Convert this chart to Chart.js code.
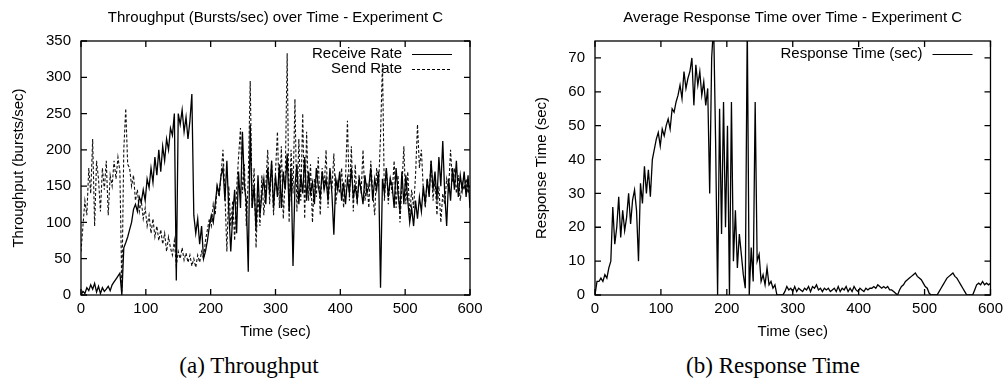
<!DOCTYPE html>
<html>
<head>
<meta charset="utf-8">
<title>Experiment C</title>
<script src="https://cdn.jsdelivr.net/npm/chart.js@4.4.1/dist/chart.umd.min.js"></script>
<style>
    html, body { margin: 0; padding: 0; background: #fff; overflow: hidden; }
    body { width: 1008px; height: 379px; position: relative; }
    .panel { position: absolute; top: 0; width: 504px; height: 345px; }
    .caption { position: absolute; top: 352px; width: 504px; text-align: center;
               font-family: "Liberation Serif", "Times New Roman", serif; font-size: 23px;
               line-height: 28px; color: #000; }
</style>
</head>
<body>
<div class="panel" style="left:0"><canvas id="throughputChart"></canvas></div>
<div class="panel" style="left:504px"><canvas id="responseChart"></canvas></div>
<div class="caption" style="left:-3px">(a) Throughput</div>
<div class="caption" style="left:521px">(b) Response Time</div>

<script>
// sample times (sec), shared by both plots
const sampleTimes = [
    0, 3, 6, 9, 12, 15, 18, 21, 24, 27,
    30, 33, 36, 39, 42, 45, 48, 51, 54, 57,
    60, 63, 66, 69, 72, 75, 78, 81, 84, 87,
    90, 93, 96, 99, 102, 105, 108, 111, 114, 117,
    120, 123, 126, 129, 132, 135, 138, 141, 144, 147,
    150, 153, 156, 159, 162, 165, 168, 171, 174, 177,
    180, 183, 186, 189, 192, 195, 198, 201, 204, 207,
    210, 213, 216, 219, 222, 225, 228, 231, 234, 237,
    240, 243, 246, 249, 252, 255, 258, 261, 264, 267,
    270, 273, 276, 279, 282, 285, 288, 291, 294, 297,
    300, 303, 306, 309, 312, 315, 318, 321, 324, 327,
    330, 333, 336, 339, 342, 345, 348, 351, 354, 357,
    360, 363, 366, 369, 372, 375, 378, 381, 384, 387,
    390, 393, 396, 399, 402, 405, 408, 411, 414, 417,
    420, 423, 426, 429, 432, 435, 438, 441, 444, 447,
    450, 453, 456, 459, 462, 465, 468, 471, 474, 477,
    480, 483, 486, 489, 492, 495, 498, 501, 504, 507,
    510, 513, 516, 519, 522, 525, 528, 531, 534, 537,
    540, 543, 546, 549, 552, 555, 558, 561, 564, 567,
    570, 573, 576, 579, 582, 585, 588, 591, 594, 597,
    600
];

// Receive Rate (bursts/sec)
const receiveRate = [
    0, 5, 2, 10, 6, 14, 8, 16, 4, 12,
    2, 10, 5, 8, 12, 6, 14, 18, 22, 26,
    30, 0, 65, 72, 80, 90, 100, 118, 125, 115,
    135, 128, 145, 130, 160, 148, 175, 155, 190, 165,
    200, 170, 205, 185, 215, 200, 230, 220, 250, 20,
    250, 235, 255, 225, 245, 215, 240, 277, 110, 85,
    105, 70, 95, 50, 60, 75, 95, 110, 100, 125,
    150, 140, 165, 175, 130, 185, 115, 60, 110, 145,
    85, 170, 120, 225, 150, 130, 32, 235, 120, 150,
    90, 165, 110, 140, 160, 125, 175, 140, 185, 120,
    165, 135, 180, 120, 170, 145, 195, 115, 175, 40,
    150, 180, 125, 165, 140, 190, 130, 170, 140, 155,
    125, 175, 150, 135, 170, 145, 160, 130, 175, 140,
    83, 160, 145, 170, 130, 155, 125, 160, 140, 175,
    135, 150, 130, 160, 145, 125, 165, 140, 150, 175,
    130, 160, 145, 170, 10, 160, 140, 175, 135, 160,
    150, 120, 175, 140, 115, 170, 125, 165, 130, 100,
    120, 95, 130, 105, 135, 115, 150, 125, 160, 135,
    185, 145, 170, 130, 190, 150, 212, 140, 95, 160,
    130, 175, 145, 185, 135, 165, 145, 170, 135, 165,
    120
];

// Send Rate (bursts/sec)
const sendRate = [
    60, 95, 130, 110, 175, 140, 215, 95, 185, 160,
    115, 175, 145, 185, 110, 165, 150, 185, 160, 190,
    170, 5, 200, 257, 180, 175, 150, 165, 130, 145,
    115, 130, 105, 120, 95, 110, 85, 105, 80, 95,
    75, 90, 70, 85, 60, 80, 65, 55, 75, 40,
    60, 50, 65, 48, 58, 45, 55, 40, 50, 38,
    55, 45, 60, 50, 75, 90, 105, 95, 125, 110,
    150, 135, 165, 200, 140, 60, 150, 95, 130, 75,
    145, 190, 230, 140, 180, 95, 160, 295, 120, 175,
    65, 140, 95, 165, 110, 150, 200, 125, 185, 110,
    170, 225, 120, 205, 105, 160, 333, 100, 200, 140,
    270, 115, 215, 130, 250, 105, 225, 130, 180, 100,
    160, 135, 190, 110, 175, 145, 200, 120, 165, 145,
    195, 125, 155, 140, 175, 120, 160, 240, 130, 205,
    115, 180, 125, 165, 140, 200, 130, 155, 120, 185,
    140, 110, 175, 150, 220, 320, 130, 175, 125, 160,
    140, 185, 120, 165, 100, 150, 205, 125, 170, 110,
    145, 120, 165, 235, 175, 200, 145, 120, 160, 140,
    185, 130, 160, 110, 150, 100, 140, 125, 160, 145,
    200, 155, 175, 140, 165, 130, 155, 145, 160, 140,
    150
];

// Response Time (sec)
const responseTime = [
    0, 4, 4, 5, 4, 6, 5, 8, 10, 26,
    15, 20, 29, 17, 25, 19, 23, 30, 21, 28,
    31, 25, 10, 33, 27, 38, 30, 37, 29, 40,
    43, 46, 48, 44, 49, 47, 50, 52, 49, 55,
    54, 57, 59, 62, 58, 66, 61, 64, 66, 70,
    56, 68, 62, 66, 59, 63, 56, 61, 30, 70,
    80, 45, 0, 55, 18, 57, 20, 50, 0, 57,
    10, 25, 8, 18, 12, 6, 2, 80, 0, 14,
    4, 57, 10, 12, 4, 6, 3, 8, 3, 4,
    2, 3, 0, 0, 0, 0, 1, 2.5, 1.5, 2,
    1, 2.5, 1, 2, 1.5, 1, 2, 1.5, 2.5, 1,
    2.5, 2, 3, 1.5, 2, 1, 2, 1.5, 2, 1,
    1.5, 2, 1, 2.5, 1, 2, 1.5, 2.5, 1, 2,
    1, 2.5, 1.5, 1, 2, 1.5, 1, 2, 1.5, 2,
    2, 2.5, 2, 3, 2.5, 2, 2.5, 2, 2.5, 1.5,
    1.5, 1, 0.5, 0, 1.5, 2.5, 3, 4, 4.5, 5,
    5.5, 6, 6.5, 5.5, 5, 4.5, 3.5, 2.5, 2, 0.5,
    0, 0, 0, 0, 1, 2, 3, 4, 5, 5.5,
    6, 6.5, 5.5, 5, 4, 3, 2, 1, 0, 0,
    0, 0, 1.5, 3, 3.5, 3, 4, 3, 3.5, 3,
    3.5
];

const FONT = '"Liberation Sans", Arial, Helvetica, sans-serif';

// gnuplot-like frame: border, inward ticks on all sides, title and legend inside top right
const gnuplotFrame = {
    id: 'gnuplotFrame',
    afterDraw(chart, args, opts) {
        const { ctx, chartArea: a, scales } = chart;
        ctx.save();
        ctx.strokeStyle = '#000';
        ctx.lineWidth = 1.3;
        ctx.setLineDash([]);
        ctx.strokeRect(a.left, a.top, a.right - a.left, a.bottom - a.top);

        ctx.beginPath();
        scales.x.ticks.forEach(t => {
            const px = scales.x.getPixelForValue(t.value);
            ctx.moveTo(px, a.bottom); ctx.lineTo(px, a.bottom - 6);
            ctx.moveTo(px, a.top); ctx.lineTo(px, a.top + 6);
        });
        scales.y.ticks.forEach(t => {
            const py = scales.y.getPixelForValue(t.value);
            ctx.moveTo(a.left, py); ctx.lineTo(a.left + 6, py);
            ctx.moveTo(a.right, py); ctx.lineTo(a.right - 6, py);
        });
        ctx.stroke();

        // title
        ctx.fillStyle = '#000';
        ctx.font = '15px ' + FONT;
        ctx.textAlign = 'center';
        ctx.textBaseline = 'middle';
        ctx.fillText(opts.title, (a.left + a.right) / 2, 18);

        // legend: text then line sample
        ctx.textAlign = 'right';
        chart.data.datasets.forEach((ds, i) => {
            const y = a.top + 13 + i * 15;
            ctx.fillText(ds.label, a.right - 68, y);
            ctx.beginPath();
            ctx.setLineDash(ds.borderDash || []);
            ctx.lineWidth = 1;
            ctx.moveTo(a.right - 58, y + 0.5);
            ctx.lineTo(a.right - 18, y + 0.5);
            ctx.stroke();
        });
        ctx.restore();
    }
};

function toPoints(values) {
    return sampleTimes.map((t, i) => ({ x: t, y: values[i] }));
}

function axisOptions(cfg) {
    return {
        x: {
            type: 'linear', min: 0, max: 600,
            grid: { display: false, drawTicks: false },
            border: { display: false },
            ticks: { stepSize: 100, padding: 5, color: '#000', font: { family: FONT, size: 15 } },
            title: { display: true, text: 'Time (sec)', color: '#000',
                     font: { family: FONT, size: 15 }, padding: { top: 0, bottom: 4 } },
            afterFit: s => { s.height = 50; }
        },
        y: {
            min: 0, max: cfg.yMax,
            grid: { display: false, drawTicks: false },
            border: { display: false },
            ticks: { stepSize: cfg.yStep, padding: 10, includeBounds: false, color: '#000',
                     font: { family: FONT, size: 15 } },
            title: { display: true, text: cfg.yTitle, color: '#000',
                     font: { family: FONT, size: 15 }, padding: { top: cfg.yTitlePad, bottom: 0 } },
            afterFit: s => { s.width = cfg.yWidth; }
        }
    };
}

function drawThroughputChart() {
    const ctx = document.getElementById('throughputChart').getContext('2d');
    new Chart(ctx, {
        type: 'line',
        data: {
            datasets: [{
                label: 'Receive Rate',
                data: toPoints(receiveRate),
                borderColor: '#000',
                borderWidth: 1.3
            }, {
                label: 'Send Rate',
                data: toPoints(sendRate),
                borderColor: '#111',
                borderWidth: 1.1,
                borderDash: [3, 2]
            }]
        },
        options: {
            responsive: true,
            maintainAspectRatio: false,
            animation: false,
            elements: { point: { radius: 0 }, line: { tension: 0 } },
            layout: { padding: { top: 41, right: 34, left: 0, bottom: 0 } },
            plugins: {
                legend: { display: false },
                tooltip: { enabled: false },
                gnuplotFrame: { title: 'Throughput (Bursts/sec) over Time - Experiment C' }
            },
            scales: axisOptions({ yMax: 350, yStep: 50, yTitle: 'Throughput (bursts/sec)', yTitlePad: 10, yWidth: 81 })
        },
        plugins: [gnuplotFrame]
    });
}

function drawResponseChart() {
    const ctx = document.getElementById('responseChart').getContext('2d');
    new Chart(ctx, {
        type: 'line',
        data: {
            datasets: [{
                label: 'Response Time (sec)',
                data: toPoints(responseTime),
                borderColor: '#000',
                borderWidth: 1.3
            }]
        },
        options: {
            responsive: true,
            maintainAspectRatio: false,
            animation: false,
            elements: { point: { radius: 0 }, line: { tension: 0 } },
            layout: { padding: { top: 41, right: 15, left: 0, bottom: 0 } },
            plugins: {
                legend: { display: false },
                tooltip: { enabled: false },
                gnuplotFrame: { title: 'Average Response Time over Time - Experiment C' }
            },
            scales: axisOptions({ yMax: 75, yStep: 10, yTitle: 'Response Time (sec)', yTitlePad: 29, yWidth: 91 })
        },
        plugins: [gnuplotFrame]
    });
}

document.addEventListener("DOMContentLoaded", function() {
    drawThroughputChart();
    drawResponseChart();
});
</script>
</body>
</html>
